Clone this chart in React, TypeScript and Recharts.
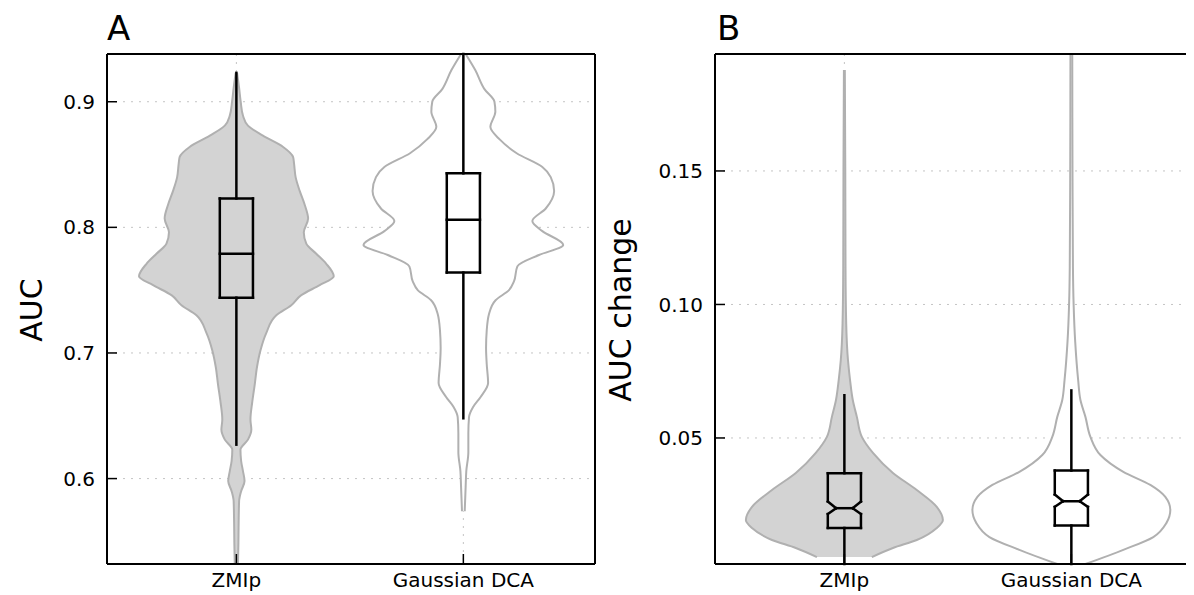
import React from 'react';
import { ComposedChart, Area, XAxis, YAxis, CartesianGrid, ReferenceLine } from 'recharts';

const categories = ['ZMIp', 'Gaussian DCA'];
const categoryPositions = [1, 2];
const xDomain: [number, number] = [0.43, 2.58];

// ---------- Panel A : AUC ----------
const aucDomain: [number, number] = [0.532, 0.938];
const aucTicks = [0.6, 0.7, 0.8, 0.9];

const aucZmipLevels = [0.532, 0.549, 0.565, 0.582, 0.59, 0.598, 0.606, 0.614, 0.623, 0.631, 0.639, 0.647, 0.661, 0.675, 0.689, 0.702, 0.716, 0.73, 0.738, 0.746, 0.754, 0.761, 0.771, 0.779, 0.787, 0.796, 0.807, 0.818, 0.829, 0.84, 0.851, 0.856, 0.864, 0.873, 0.881, 0.889, 0.9, 0.911, 0.923];
const aucZmipHalfWidths = [0.007, 0.009, 0.01, 0.012, 0.021, 0.036, 0.029, 0.021, 0.018, 0.051, 0.066, 0.062, 0.07, 0.081, 0.091, 0.106, 0.132, 0.176, 0.242, 0.286, 0.367, 0.429, 0.396, 0.352, 0.308, 0.297, 0.316, 0.301, 0.279, 0.261, 0.254, 0.25, 0.206, 0.117, 0.051, 0.029, 0.019, 0.012, 0.003];

const aucGdcaLevels = [0.574, 0.593, 0.606, 0.621, 0.636, 0.649, 0.657, 0.665, 0.676, 0.691, 0.704, 0.718, 0.731, 0.742, 0.75, 0.757, 0.769, 0.778, 0.786, 0.797, 0.805, 0.815, 0.829, 0.84, 0.848, 0.859, 0.87, 0.88, 0.892, 0.9, 0.91, 0.925, 0.938];
const aucGdcaHalfWidths = [0.006, 0.01, 0.013, 0.022, 0.022, 0.025, 0.043, 0.076, 0.109, 0.103, 0.1, 0.103, 0.113, 0.142, 0.201, 0.223, 0.238, 0.333, 0.44, 0.348, 0.304, 0.363, 0.4, 0.385, 0.348, 0.235, 0.16, 0.119, 0.141, 0.137, 0.093, 0.053, 0.01];

const aucWhiskerLow = [0.627, 0.648];
const aucQ1 = [0.744, 0.764];
const aucMedian = [0.779, 0.806];
const aucQ3 = [0.823, 0.843];
const aucWhiskerHigh = [0.923, 0.938];

// ---------- Panel B : AUC change ----------
const chgDomain: [number, number] = [0.0028, 0.1938];
const chgTicks = [0.05, 0.1, 0.15];

const chgZmipLevels = [0.0054, 0.0088, 0.0118, 0.0163, 0.0193, 0.0242, 0.0305, 0.0369, 0.0444, 0.0504, 0.0579, 0.0642, 0.0717, 0.079, 0.093, 0.114, 0.15, 0.1878];
const chgZmipHalfWidths = [0.121, 0.214, 0.319, 0.407, 0.434, 0.407, 0.319, 0.214, 0.126, 0.077, 0.055, 0.037, 0.025, 0.016, 0.008, 0.005, 0.004, 0.002];

const chgGdcaLevels = [0.0028, 0.0081, 0.0129, 0.0182, 0.023, 0.0279, 0.0324, 0.0373, 0.0436, 0.0504, 0.0579, 0.0642, 0.0717, 0.086, 0.1, 0.114, 0.15, 0.1938];
const chgGdcaHalfWidths = [0.062, 0.229, 0.361, 0.419, 0.436, 0.414, 0.348, 0.229, 0.128, 0.084, 0.062, 0.04, 0.03, 0.017, 0.01, 0.007, 0.005, 0.004];

const chgWhiskerLow = [0.0028, 0.0028];
const chgQ1 = [0.0163, 0.0172];
const chgNotchLow = [0.0215, 0.0242];
const chgMedian = [0.0237, 0.0263];
const chgNotchHigh = [0.0262, 0.0288];
const chgQ3 = [0.0368, 0.0378];
const chgWhiskerHigh = [0.066, 0.0678];

const BOX_HALF = 0.073;

type Pt = { x: number; y: number };

function buildViolinRows(series: { key: string; center: number; levels: number[]; halves: number[] }[]) {
  const rows: any[] = [];
  series.forEach((s) => {
    s.levels.forEach((lv, i) => {
      const row: any = { y: lv };
      series.forEach((o) => {
        row[o.key] = [null, null];
      });
      row[s.key] = [s.center - s.halves[i], s.center + s.halves[i]];
      rows.push(row);
    });
  });
  rows.sort((a, b) => b.y - a.y);
  return rows;
}

function boxSegments(
  c: number,
  lo: number,
  q1: number,
  med: number,
  q3: number,
  hi: number,
  notch?: [number, number]
): [Pt, Pt][] {
  const w = BOX_HALF;
  const segs: [Pt, Pt][] = [];
  segs.push([{ x: c, y: lo }, { x: c, y: q1 }]);
  segs.push([{ x: c, y: q3 }, { x: c, y: hi }]);
  let poly: Pt[];
  if (notch) {
    const [nl, nh] = notch;
    poly = [
      { x: c - w, y: q1 }, { x: c + w, y: q1 }, { x: c + w, y: nl }, { x: c + w / 2, y: med },
      { x: c + w, y: nh }, { x: c + w, y: q3 }, { x: c - w, y: q3 }, { x: c - w, y: nh },
      { x: c - w / 2, y: med }, { x: c - w, y: nl }, { x: c - w, y: q1 },
    ];
    segs.push([{ x: c - w / 2, y: med }, { x: c + w / 2, y: med }]);
  } else {
    poly = [
      { x: c - w, y: q1 }, { x: c + w, y: q1 }, { x: c + w, y: q3 }, { x: c - w, y: q3 }, { x: c - w, y: q1 },
    ];
    segs.push([{ x: c - w, y: med }, { x: c + w, y: med }]);
  }
  for (let i = 0; i < poly.length - 1; i++) segs.push([poly[i], poly[i + 1]]);
  return segs;
}

const aucRows = buildViolinRows([
  { key: 'zmip', center: categoryPositions[0], levels: aucZmipLevels, halves: aucZmipHalfWidths },
  { key: 'gdca', center: categoryPositions[1], levels: aucGdcaLevels, halves: aucGdcaHalfWidths },
]);
const chgRows = buildViolinRows([
  { key: 'zmip', center: categoryPositions[0], levels: chgZmipLevels, halves: chgZmipHalfWidths },
  { key: 'gdca', center: categoryPositions[1], levels: chgGdcaLevels, halves: chgGdcaHalfWidths },
]);

const aucBoxes = categoryPositions.flatMap((c, i) =>
  boxSegments(c, aucWhiskerLow[i], aucQ1[i], aucMedian[i], aucQ3[i], aucWhiskerHigh[i])
);
const chgBoxes = categoryPositions.flatMap((c, i) =>
  boxSegments(c, chgWhiskerLow[i], chgQ1[i], chgMedian[i], chgQ3[i], chgWhiskerHigh[i], [chgNotchLow[i], chgNotchHigh[i]])
);

const FONT = "'DejaVu Sans', 'Bitstream Vera Sans', sans-serif";
const tickStyle = { fontSize: 20, fill: '#000', fontFamily: FONT };
const axisLineStyle = { stroke: '#000', strokeWidth: 2 };
const tickLineStyle = { stroke: '#000', strokeWidth: 1.5 };

function Panel({
  rows,
  domain,
  ticks,
  fmt,
  boxes,
}: {
  rows: any[];
  domain: [number, number];
  ticks: number[];
  fmt: (v: number) => string;
  boxes: [Pt, Pt][];
}) {
  return (
    <ComposedChart
      width={600}
      height={587}
      data={rows}
      layout="vertical"
      margin={{ top: 45, right: 12, bottom: 0, left: 0 }}
    >
      <CartesianGrid stroke="#c4c4c4" strokeDasharray="2 6" strokeWidth={1} />
      <XAxis
        type="number"
        domain={xDomain}
        ticks={categoryPositions}
        interval={0}
        allowDataOverflow
        tickFormatter={(v: number) => categories[categoryPositions.indexOf(v)] ?? ''}
        tick={tickStyle}
        tickSize={-10}
        tickMargin={19}
        height={31}
        axisLine={axisLineStyle}
        tickLine={tickLineStyle}
      />
      <XAxis
        xAxisId="top"
        orientation="top"
        type="number"
        domain={xDomain}
        ticks={categoryPositions}
        interval={0}
        allowDataOverflow
        tick={false}
        tickSize={-10}
        height={1}
        axisLine={axisLineStyle}
        tickLine={tickLineStyle}
      />
      <YAxis
        type="number"
        dataKey="y"
        reversed
        domain={domain}
        ticks={ticks}
        interval={0}
        allowDataOverflow
        tickFormatter={fmt}
        tick={tickStyle}
        tickSize={-10}
        tickMargin={22}
        width={99}
        axisLine={axisLineStyle}
        tickLine={tickLineStyle}
      />
      <YAxis
        yAxisId="right"
        orientation="right"
        type="number"
        dataKey="y"
        reversed
        domain={domain}
        ticks={ticks}
        interval={0}
        allowDataOverflow
        tick={false}
        tickSize={-10}
        width={1}
        axisLine={axisLineStyle}
        tickLine={tickLineStyle}
      />
      <Area
        dataKey="zmip"
        type="monotone"
        connectNulls
        fill="#d3d3d3"
        fillOpacity={1}
        stroke="#b0b0b0"
        strokeWidth={2}
        dot={false}
        activeDot={false}
        isAnimationActive={false}
      />
      <Area
        dataKey="gdca"
        type="monotone"
        connectNulls
        fill="#ffffff"
        fillOpacity={1}
        stroke="#b0b0b0"
        strokeWidth={2}
        dot={false}
        activeDot={false}
        isAnimationActive={false}
      />
      {boxes.map((seg, i) => (
        <ReferenceLine
          key={i}
          segment={seg}
          stroke="#000"
          strokeWidth={2.5}
          strokeLinecap="square"
          ifOverflow="visible"
        />
      ))}
    </ComposedChart>
  );
}

export default function App() {
  return (
    <div style={{ position: 'relative', width: 1186, height: 587, overflow: 'hidden', background: '#fff' }}>
      <div style={{ position: 'absolute', left: 0, top: 0 }}>
        <Panel rows={aucRows} domain={aucDomain} ticks={aucTicks} fmt={(v) => v.toFixed(1)} boxes={aucBoxes} />
      </div>
      <div style={{ position: 'absolute', left: 608, top: 0 }}>
        <Panel rows={chgRows} domain={chgDomain} ticks={chgTicks} fmt={(v) => v.toFixed(2)} boxes={chgBoxes} />
      </div>
      <svg
        width={1186}
        height={587}
        style={{ position: 'absolute', left: 0, top: 0, pointerEvents: 'none' }}
      >
        <text x={99} y={32} fontSize={34} fontFamily={FONT} fill="#000">A</text>
        <text x={709} y={32} fontSize={34} fontFamily={FONT} fill="#000">B</text>
        <text
          x={34}
          y={302}
          fontSize={30}
          fontFamily={FONT}
          fill="#000"
          textAnchor="middle"
          transform="rotate(-90 34 302)"
        >
          AUC
        </text>
        <text
          x={623}
          y={302}
          fontSize={30}
          fontFamily={FONT}
          fill="#000"
          textAnchor="middle"
          transform="rotate(-90 623 302)"
        >
          AUC change
        </text>
      </svg>
    </div>
  );
}
